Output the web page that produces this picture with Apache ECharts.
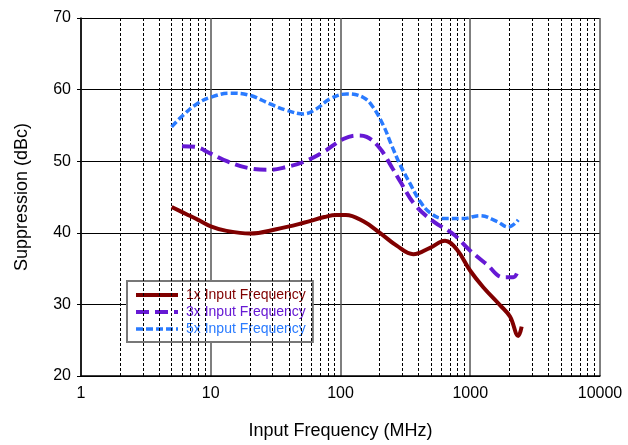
<!DOCTYPE html>
<html><head><meta charset="utf-8">
<script src="https://cdn.jsdelivr.net/npm/echarts@6/dist/echarts.min.js"></script>
<style>html,body{margin:0;padding:0;background:#fff}#c{width:628px;height:445px}</style>
</head><body><div id="c"></div>
<script>
const xTicks = [1, 10, 100, 1000, 10000];
const yTicks = [20, 30, 40, 50, 60, 70];
const minorX = [2,3,4,5,6,7,8,9,20,30,40,50,60,70,80,90,200,300,400,500,600,700,800,900,2000,3000,4000,5000,6000,7000,8000,9000];
const seriesNames = ['1x Input Frequency', '3x Input Frequency', '5x Input Frequency'];

const s1x = [[5,43.6],[6.5,42.6],[8,41.8],[10,40.9],[13,40.3],[20,39.9],[32,40.5],[52,41.4],[75,42.2],[93,42.5],[110,42.5],[150,41.6],[201,40.0],[271,38.2],[364,37.0],[490,37.9],[639,38.9],[786,37.7],[1000,34.7],[1259,32.4],[1695,29.9],[2024,28.3],[2345,25.6],[2490,26.9]];
const s3x = [[6,52.1],[7.6,52.0],[9.9,51.1],[13.3,50.0],[20,49.0],[28.6,48.8],[38.5,49.2],[52,49.9],[74,51.3],[105,53.1],[135,53.6],[159,53.4],[201,51.8],[248,49.2],[288,47.2],[375,43.9],[519,41.6],[741,39.8],[1000,37.5],[1340,35.6],[1798,33.8],[2148,33.8],[2345,34.7],[2400,35.1]];
const s5x = [[5,54.8],[6.1,56.4],[7.8,58.0],[9.9,58.9],[14,59.5],[20,59.2],[28.6,58.0],[38.5,57.1],[52,56.6],[65,57.3],[83,58.7],[112,59.4],[150,58.9],[179,57.5],[214,55.0],[248,52.2],[288,49.5],[343,46.9],[410,44.4],[490,42.8],[617,42.0],[884,42.0],[1189,42.4],[1600,41.6],[1968,40.8],[2345,41.8]];

const colors = ['#800000', '#6619d4', '#2a7bff'];
const widths = [4, 4, 3.5];
const dashes = ['solid', [13, 6], [7, 3]];
const font = 'Arial, "Liberation Sans", sans-serif';

const chart = echarts.init(document.getElementById('c'));
chart.setOption({
  animation: false,
  backgroundColor: '#fff',
  grid: { left: 81, right: 28, top: 18, bottom: 65, containLabel: false },
  legend: {
    orient: 'vertical',
    left: 127, top: 281,
    backgroundColor: '#fff',
    borderColor: '#777', borderWidth: 2,
    padding: [7, 7, 6, 7],
    itemGap: 3,
    itemWidth: 42, itemHeight: 14,
    itemStyle: { opacity: 0 },
    textStyle: { fontFamily: font, fontSize: 14, padding: [0, 0, 0, 3] },
    data: seriesNames.map((n, i) => ({
      name: n,
      textStyle: { color: colors[i] },
      lineStyle: { color: colors[i], width: widths[i], type: dashes[i] }
    }))
  },
  xAxis: {
    type: 'log', logBase: 10, min: 1, max: 10000,
    name: 'Input Frequency (MHz)', nameLocation: 'middle', nameGap: 46,
    nameTextStyle: { fontFamily: font, fontSize: 18, color: '#000' },
    axisLine: { show: true, lineStyle: { color: '#000', width: 1.5 } },
    axisTick: { show: false },
    axisLabel: { fontFamily: font, fontSize: 16, color: '#000', margin: 10, formatter: v => String(Math.round(v)) },
    splitLine: { show: true, lineStyle: { color: '#555', width: 1.5 } }
  },
  yAxis: {
    type: 'value', min: 20, max: 70, interval: 10,
    name: 'Suppression (dBc)', nameLocation: 'middle', nameGap: 50,
    nameTextStyle: { fontFamily: font, fontSize: 18, color: '#000' },
    axisLine: { show: true, lineStyle: { color: '#000', width: 1.5 } },
    axisTick: { show: true, length: 4, lineStyle: { color: '#000' } },
    axisLabel: { fontFamily: font, fontSize: 16, color: '#000', margin: 10 },
    splitLine: { show: true, lineStyle: { color: '#000', width: 1.2 } }
  },
  series: [
    {
      name: seriesNames[0], type: 'line', data: s1x, smooth: 0.4, symbol: 'none', z: 5,
      lineStyle: { color: colors[0], width: widths[0], type: dashes[0] }, itemStyle: { color: colors[0] },
      markLine: {
        silent: true, symbol: 'none', label: { show: false }, animation: false,
        lineStyle: { color: '#000', width: 1, type: [3, 2] },
        data: minorX.map(v => ({ xAxis: v }))
      }
    },
    {
      name: seriesNames[1], type: 'line', data: s3x, smooth: 0.4, symbol: 'none', z: 5,
      lineStyle: { color: colors[1], width: widths[1], type: dashes[1] }, itemStyle: { color: colors[1] }
    },
    {
      name: seriesNames[2], type: 'line', data: s5x, smooth: 0.4, symbol: 'none', z: 5,
      lineStyle: { color: colors[2], width: widths[2], type: dashes[2] }, itemStyle: { color: colors[2] }
    }
  ]
});
</script></body></html>
